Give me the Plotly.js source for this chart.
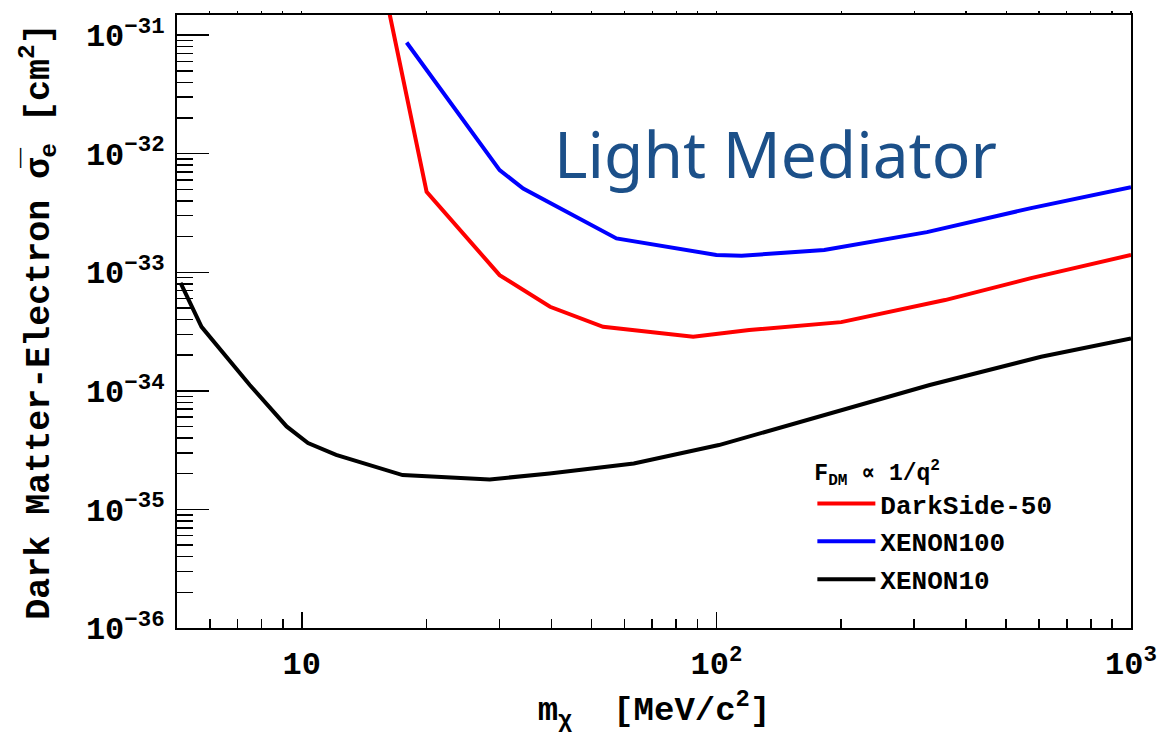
<!DOCTYPE html>
<html><head><meta charset="utf-8">
<script src="https://cdn.plot.ly/plotly-3.0.1.min.js"></script>
<style>html,body{margin:0;padding:0;background:#fff;}</style>
</head><body>
<div id="chart" style="width:1164px;height:734px;"></div>
<script>
// DarkSide-50 (red)
const darksideMass  = [16.0, 20.0, 30.0, 39.7, 53.3, 87.9, 120, 200, 356, 574, 1000];
const darksideSigma = [2.03e-31, 4.77e-33, 9.46e-34, 5.12e-34, 3.47e-34, 2.86e-34, 3.26e-34, 3.80e-34, 5.83e-34, 8.93e-34, 1.40e-33];
// XENON100 (blue)
const xenon100Mass  = [17.9, 30.0, 34.2, 57.4, 100, 115, 182, 322, 574, 1000];
const xenon100Sigma = [8.67e-32, 7.28e-33, 5.09e-33, 1.93e-33, 1.40e-33, 1.38e-33, 1.54e-33, 2.18e-33, 3.48e-33, 5.22e-33];
// XENON10 (black)
const xenon10Mass  = [5.1, 5.73, 7.49, 9.19, 10.35, 12.1, 17.5, 28.4, 39.6, 63.2, 101.4, 176.6, 327, 607, 1000];
const xenon10Sigma = [8.13e-34, 3.47e-34, 1.12e-34, 5.01e-35, 3.63e-35, 2.88e-35, 1.95e-35, 1.79e-35, 2.01e-35, 2.44e-35, 3.49e-35, 6.05e-35, 1.12e-34, 1.94e-34, 2.77e-34];

const seriesNames = ['DarkSide-50', 'XENON100', 'XENON10'];
const seriesColors = ['#ff0000', '#0000ff', '#000000'];

const xTickVals = [10, 100, 1000];
const xTickText = ['10', '10<sup>2</sup>', '10<sup>3</sup>'];
const xMinorVals = [6, 7, 8, 9, 20, 30, 40, 50, 60, 70, 80, 90, 200, 300, 400, 500, 600, 700, 800, 900];
const yTickVals = [1e-36, 1e-35, 1e-34, 1e-33, 1e-32, 1e-31];
const yTickText = ['10<sup>\u221236</sup>', '10<sup>\u221235</sup>', '10<sup>\u221234</sup>', '10<sup>\u221233</sup>', '10<sup>\u221232</sup>', '10<sup>\u221231</sup>'];
const yMinorVals = [];
for (let e = -36; e <= -31; e++) for (let k = 2; k <= 9; k++) yMinorVals.push(k * Math.pow(10, e));

const mono = 'Liberation Mono, Courier New, monospace';
const tickFont = {family: mono, size: 32, color: '#000', weight: 'bold'};

const traces = [
  {x: darksideMass, y: darksideSigma, name: seriesNames[0]},
  {x: xenon100Mass, y: xenon100Sigma, name: seriesNames[1]},
  {x: xenon10Mass, y: xenon10Sigma, name: seriesNames[2]}
].map((t, i) => Object.assign(t, {type: 'scatter', mode: 'lines', legendgroup: 'g' + i,
  line: {color: seriesColors[i], width: 4}, hoverinfo: 'skip'}));
traces.push({x: xenon10Mass, y: xenon10Sigma, xaxis: 'x2', yaxis: 'y', type: 'scatter', mode: 'lines',
  line: {width: 0}, opacity: 0, showlegend: false, hoverinfo: 'skip'});

const layout = {
  width: 1164, height: 734,
  margin: {l: 177, r: 33, t: 15, b: 106},
  paper_bgcolor: '#ffffff', plot_bgcolor: '#ffffff',
  showlegend: true,
  legend: {
    x: 0.666, y: 0.29, xanchor: 'left', yanchor: 'top',
    bgcolor: 'rgba(0,0,0,0)', borderwidth: 0,
    font: {family: mono, size: 26, color: '#000', weight: 'bold'},
    title: {text: 'F<sub>DM</sub> \u221d 1/q<sup>2</sup>', font: {family: mono, size: 23, color: '#000', weight: 'bold'}},
    itemwidth: 58, tracegroupgap: 1
  },
  xaxis: {
    type: 'log', range: [Math.log10(5), 3],
    tickmode: 'array', tickvals: xTickVals, ticktext: xTickText,
    ticks: 'inside', ticklen: 16, tickwidth: 1.5, tickcolor: '#000',
    minor: {tickmode: 'array', tickvals: xMinorVals, ticks: 'inside', ticklen: 9, tickwidth: 1.5, tickcolor: '#000', showgrid: false},
    showgrid: false, zeroline: false,
    showline: true, linecolor: '#000', linewidth: 2, mirror: true,
    tickfont: tickFont, ticklabelstandoff: 6,
    title: {text: 'm<sub>\u03c7</sub>  [MeV/c<sup>2</sup>]', font: {family: mono, size: 34, color: '#000', weight: 'bold'}, standoff: 16}
  },
  xaxis2: {
    type: 'log', range: [Math.log10(5), 3], overlaying: 'x', side: 'top',
    tickmode: 'array', tickvals: xMinorVals.concat(xTickVals),
    ticks: 'outside', ticklen: 3, tickwidth: 1.2, tickcolor: '#000',
    showticklabels: false, showgrid: false, zeroline: false, showline: false
  },
  yaxis: {
    type: 'log', range: [-36, -30.83],
    tickmode: 'array', tickvals: yTickVals, ticktext: yTickText,
    ticks: 'inside', ticklen: 32, tickwidth: 1.5, tickcolor: '#000',
    minor: {tickmode: 'array', tickvals: yMinorVals, ticks: 'inside', ticklen: 16, tickwidth: 1.5, tickcolor: '#000', showgrid: false},
    showgrid: false, zeroline: false,
    showline: true, linecolor: '#000', linewidth: 2, mirror: true,
    tickfont: tickFont, ticklabelstandoff: 4,
    title: {text: 'Dark Matter-Electron \u03c3\u0305<sub>e</sub> [cm<sup>2</sup>]', font: {family: mono, size: 35, color: '#000', weight: 'bold'}, standoff: 26}
  },
  annotations: [{
    text: 'Light Mediator', xref: 'paper', yref: 'paper', x: 0.627, y: 0.774,
    xanchor: 'center', yanchor: 'middle', showarrow: false,
    font: {family: 'Noto Sans', size: 64, color: '#1c5089'}
  }]
};

Plotly.newPlot('chart', traces, layout, {displayModeBar: false, staticPlot: true});
</script>
</body></html>
